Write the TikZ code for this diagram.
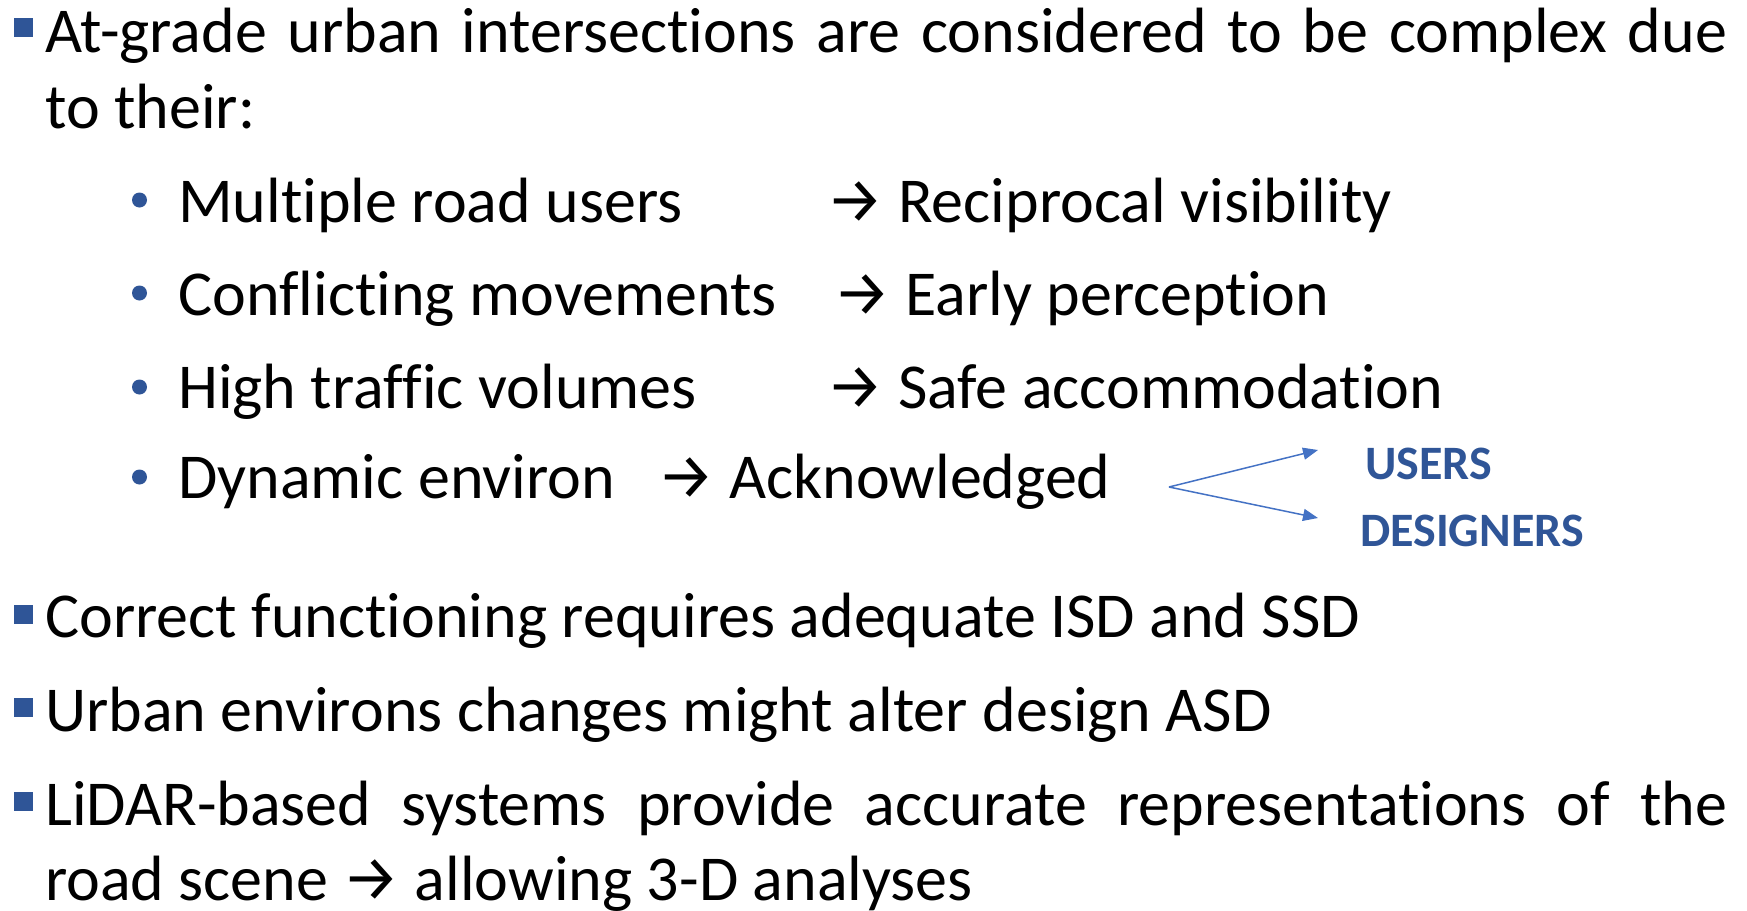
\documentclass[tikz,border=0pt]{standalone}
\usepackage{fontspec}
\setmainfont[Ligatures=NoCommon]{Carlito}
\newfontfamily\arrowfont{Fira Sans}
\usetikzlibrary{arrows.meta}
\definecolor{bulletblue}{RGB}{47,85,151}
\definecolor{linkblue}{RGB}{68,114,196}
\newcommand{\toarrow}{{\arrowfont →}}
\begin{document}
\begin{tikzpicture}[x=1pt,y=-1pt,
  txt/.style={anchor=base west,inner sep=0pt,font=\fontsize{64}{76}\selectfont},
  tag/.style={anchor=base west,inner sep=0pt,text=bulletblue,font=\fontsize{48}{58}\selectfont\bfseries},
  sq/.style={fill=bulletblue,minimum size=19pt,inner sep=0pt},
  dot/.style={circle,fill=bulletblue,minimum size=15pt,inner sep=0pt},
  split/.style={linkblue,line width=1.5pt,-{Triangle[length=15pt,width=12pt]}}]
\useasboundingbox (0,0) rectangle (1747,910);
\node[sq] (s1) at (23.5,27.5) {};
\node[txt] (l1) at (45,52) {\makebox[1682pt][s]{At-grade urban intersections are considered to be complex due}};
\node[txt] (l2) at (45,128) {to their:};
\node[dot] (d1) at (139.5,200) {};
\node[dot] (d2) at (139.5,293) {};
\node[dot] (d3) at (139.5,387) {};
\node[dot] (d4) at (139.5,477) {};
\node[txt] (u1) at (178,222) {Multiple road users};
\node[txt] (u2) at (178,315) {Conflicting movements};
\node[txt] (u3) at (178,408) {High traffic volumes};
\node[txt] (u4) at (178,498) {Dynamic environ};
\node[txt] (r1) at (826,222) {\toarrow{} Reciprocal visibility};
\node[txt] (r2) at (833,315) {\toarrow{} Early perception};
\node[txt] (r3) at (826,408) {\toarrow{} Safe accommodation};
\node[txt] (r4) at (657,498) {\toarrow{} Acknowledged};
\node[tag] (users) at (1365,479) {USERS};
\node[tag] (designers) at (1360,546) {DESIGNERS};
\coordinate (fork) at (1169,487);
\coordinate (uend) at (1318,450);
\coordinate (dend) at (1318,518);
\draw[split] (fork) -- (uend);
\draw[split] (fork) -- (dend);
\node[sq] (s2) at (23.5,614) {};
\node[txt] (l3) at (45,637) {Correct functioning requires adequate ISD and SSD};
\node[sq] (s3) at (23.5,707.5) {};
\node[txt] (l4) at (45,731) {Urban environs changes might alter design ASD};
\node[sq] (s4) at (23.5,801) {};
\node[txt] (l5) at (45,825) {\makebox[1682pt][s]{LiDAR-based systems provide accurate representations of the}};
\node[txt] (l6) at (45,900) {road scene \toarrow{} allowing 3-D analyses};
\end{tikzpicture}
\end{document}
